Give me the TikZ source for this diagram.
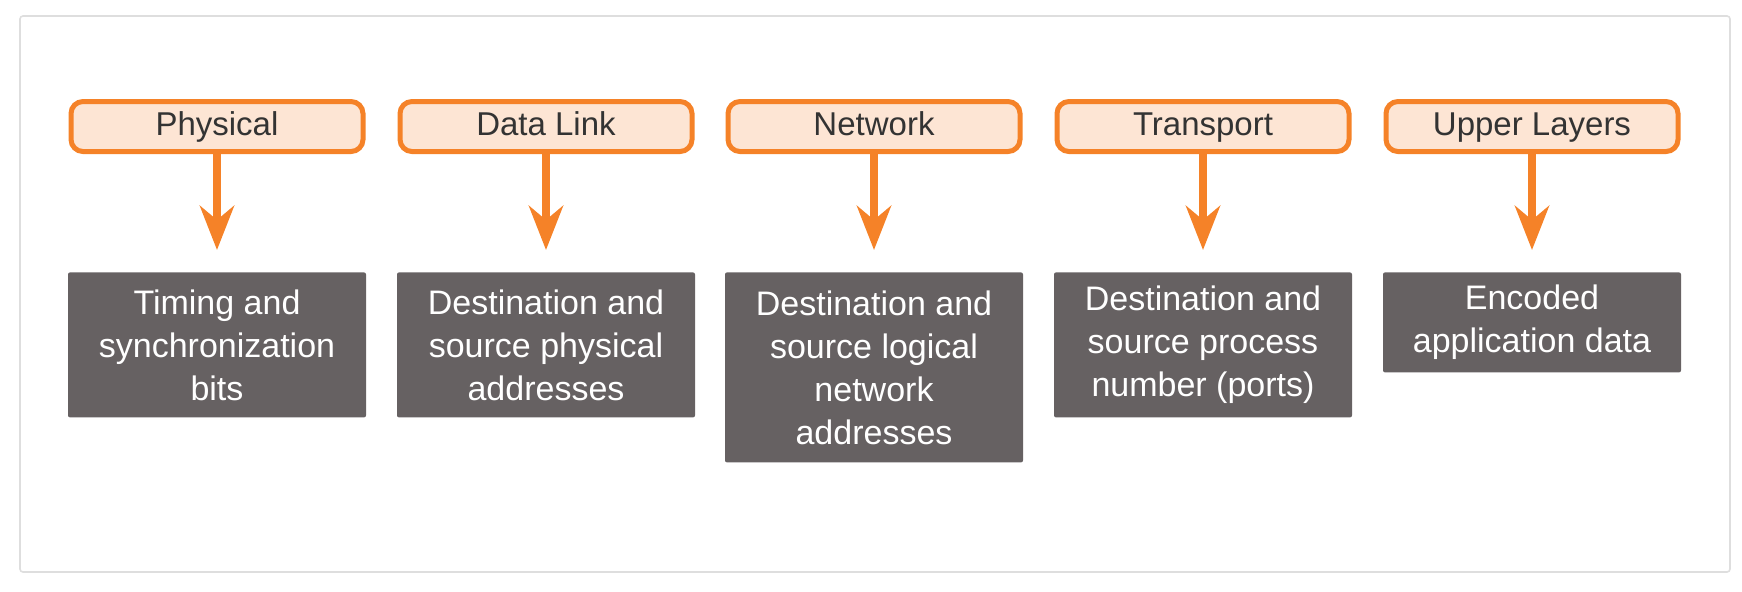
\documentclass[tikz,border=0pt]{standalone}
\usepackage{fontspec}
\setmainfont{Liberation Sans}
\usepackage{tikz}
\usetikzlibrary{arrows.meta}
\definecolor{layerOrange}{RGB}{245, 130, 40}
\definecolor{layerPeach}{RGB}{253, 229, 212}
\definecolor{infoGray}{RGB}{102, 97, 98}
\definecolor{frameGray}{RGB}{222, 222, 222}
\definecolor{labelText}{RGB}{51, 51, 51}

\begin{document}
\begin{tikzpicture}[x=0.5pt, y=-0.5pt,
        layer/.style={draw=layerOrange, fill=layerPeach, line width=2.5pt, rounded corners=6pt,
            minimum width=146pt, minimum height=25pt, text height=12pt, text depth=3.5pt,
            text=labelText, font=\fontsize{16.5}{20}\selectfont},
        info/.style={fill=infoGray, rounded corners=1pt, minimum width=149pt, text=white,
            align=center, anchor=north, font=\fontsize{17}{21.5}\selectfont},
        down/.style={layerOrange, line width=4.3pt, -{Stealth[length=22pt, width=17pt, inset=7pt]},
            shorten >=11pt}]
        \useasboundingbox (0,0) rectangle (1742,591);
        \draw[frameGray, line width=0.8pt, rounded corners=1.5pt] (20,16) rectangle (1730,572);

        \node[layer] (phys) at (217,126.5) {Physical};
        \node[layer] (link) at (546,126.5) {Data Link};
        \node[layer] (net) at (874,126.5) {Network};
        \node[layer] (trans) at (1203,126.5) {Transport};
        \node[layer] (upper) at (1532,126.5) {Upper Layers};

        \node[info, minimum height=72.5pt] (phys-info) at (217,272) {Timing and\\synchronization\\bits};
        \node[info, minimum height=72.5pt] (link-info) at (546,272) {Destination and\\source physical\\addresses};
        \node[info, minimum height=95pt] (net-info) at (874,272) {Destination and\\source logical\\network\\addresses};
        \node[info, minimum height=72.5pt] (trans-info) at (1203,272) {Destination and\\source process\\number (ports)};
        \node[info, minimum height=50pt] (upper-info) at (1532,272) {Encoded\\application data};

        \draw[down] (phys) -- (phys-info);
        \draw[down] (link) -- (link-info);
        \draw[down] (net) -- (net-info);
        \draw[down] (trans) -- (trans-info);
        \draw[down] (upper) -- (upper-info);
    \end{tikzpicture}
\end{document}
